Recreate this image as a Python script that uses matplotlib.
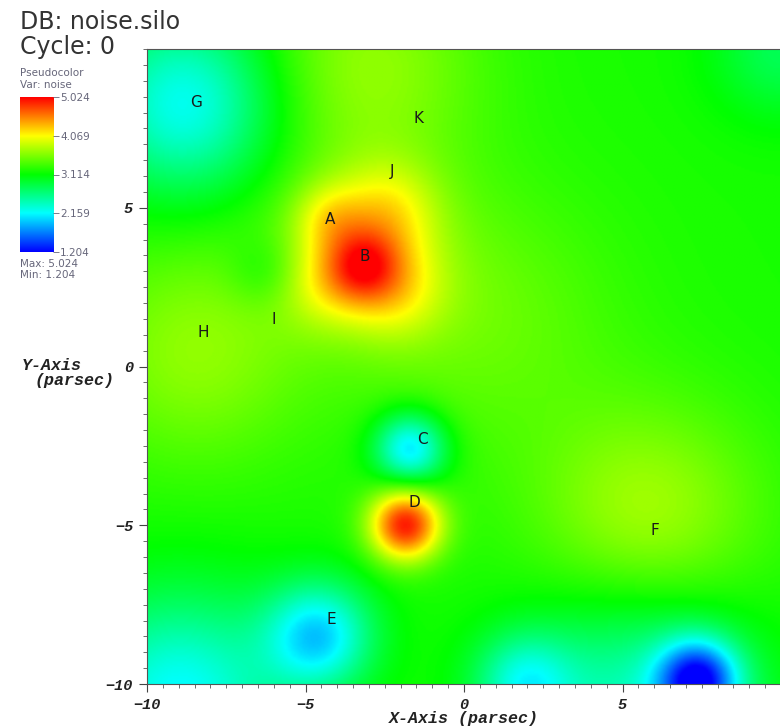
import matplotlib
matplotlib.use("Agg")
import matplotlib.pyplot as plt
import numpy as np
from matplotlib.colors import LinearSegmentedColormap
from matplotlib.ticker import MultipleLocator

# noise field: flat background plus gaussian bumps (centre, height, width)
background = 3.2
bump_x = [-3.2, -4.3, -2.4, -4.4, -2.2, -6.3, -1.85, -8.8, -1.7, -4.6, 7.4, 1.9, -9.0, 5.5,
          -3.0, -8.5, 5.8, 0.5, 10.0, -3.3]
bump_y = [3.2, 4.7, 4.9, 2.6, 2.4, 3.0, -5.0, 8.3, -2.6, -8.5, -9.9, -10.0, -10.5, -10.5,
          9.5, 0.5, -4.8, 1.5, 10.0, 3.7]
bump_amp = [0.85, 0.45, 0.5, 0.4, 0.5, -0.25, 1.7, -1.0, -1.2, -1.15, -1.7, -0.8, -1.05, -0.8,
            0.45, 0.45, 0.55, 0.3, -0.4, 0.4]
bump_sigma = [0.8, 0.8, 1.1, 1.0, 1.1, 0.8, 0.8, 2.0, 0.8, 1.2, 0.9, 1.1, 2.3, 2.6,
              2.5, 2.5, 2.5, 3.0, 1.5, 2.0]

# named points drawn as letters
label_names = ["A", "B", "C", "D", "E", "F", "G", "H", "I", "J", "K"]
label_x = [-4.23, -3.12, -1.32, -1.55, -4.2, 6.03, -8.45, -8.23, -6.0, -2.27, -1.45]
label_y = [4.64, 3.47, -2.3, -4.29, -7.98, -5.17, 8.3, 1.07, 1.48, 6.15, 7.8]

vmin, vmax = 1.204, 5.024
legend_ticks = [1.204, 2.159, 3.114, 4.069, 5.024]
axis_ticks = [-10, -5, 0, 5]

xs = np.linspace(-10, 10, 400)
ys = np.linspace(-10, 10, 400)
X, Y = np.meshgrid(xs, ys)
Z = np.full_like(X, background)
for bx, by, a, s in zip(bump_x, bump_y, bump_amp, bump_sigma):
    Z += a * np.exp(-((X - bx) ** 2 + (Y - by) ** 2) / (2 * s ** 2))

hot = LinearSegmentedColormap.from_list(
    "hot", ["#0000ff", "#00ffff", "#00ff00", "#ffff00", "#ff0000"])

fig = plt.figure(figsize=(7.8, 7.28), dpi=100)
ax = fig.add_axes([147 / 780, 44 / 728, 634 / 780, 635 / 728])
ax.imshow(Z, cmap=hot, vmin=vmin, vmax=vmax, origin="lower",
          extent=[-10, 10, -10, 10], interpolation="bilinear", aspect="auto")
for name, lx, ly in zip(label_names, label_x, label_y):
    ax.text(lx, ly, name, ha="center", va="center", fontsize=11, color="#1a1a1a")

ax.set_xlim(-10, 10)
ax.set_ylim(-10, 10)
tick_font = dict(family="Liberation Mono", weight="bold", style="italic")
ax.set_xticks(axis_ticks)
ax.set_yticks(axis_ticks)
ax.xaxis.set_minor_locator(MultipleLocator(0.5))
ax.yaxis.set_minor_locator(MultipleLocator(0.5))
ax.tick_params(which="major", length=6, width=0.8, color="#444", pad=4,
               labelsize=11, labelcolor="#222")
ax.tick_params(which="minor", length=3, width=0.6, color="#555")
for lab in ax.get_xticklabels() + ax.get_yticklabels():
    lab.set_fontfamily("Liberation Mono")
    lab.set_fontweight("bold")
    lab.set_fontstyle("italic")
for sp in ax.spines.values():
    sp.set_color("#555")
    sp.set_linewidth(0.8)

fig.text(464 / 780, 1 - 718 / 728, "X-Axis (parsec)", ha="center", va="center",
         fontsize=12, color="#222", **tick_font)
fig.text(22 / 780, 1 - 365 / 728, "Y-Axis", ha="left", va="center",
         fontsize=12, color="#222", **tick_font)
fig.text(35 / 780, 1 - 381 / 728, "(parsec)", ha="left", va="center",
         fontsize=12, color="#222", **tick_font)

# database and cycle header
fig.text(20 / 780, 1 - 22 / 728, "DB: noise.silo", ha="left", va="center",
         fontsize=17, color="#333")
fig.text(20 / 780, 1 - 47 / 728, "Cycle: 0", ha="left", va="center",
         fontsize=17, color="#333")

# pseudocolor legend
leg_col = "#66667a"
fig.text(20 / 780, 1 - 73 / 728, "Pseudocolor", fontsize=7.5, color=leg_col, va="center")
fig.text(20 / 780, 1 - 85 / 728, "Var: noise", fontsize=7.5, color=leg_col, va="center")
cax = fig.add_axes([20 / 780, 1 - 252 / 728, 33 / 780, 155 / 728])
grad = np.linspace(vmin, vmax, 256).reshape(-1, 1)
cax.imshow(grad, cmap=hot, vmin=vmin, vmax=vmax, origin="lower", aspect="auto",
           extent=[0, 1, vmin, vmax])
cax.set_xticks([])
cax.yaxis.tick_right()
cax.set_yticks(legend_ticks)
cax.set_yticklabels([f"{v:.3f}" for v in legend_ticks])
cax.tick_params(axis="y", length=4, width=0.6, color=leg_col, labelsize=7.5,
                labelcolor=leg_col, pad=1)
for sp in cax.spines.values():
    sp.set_visible(False)
fig.text(20 / 780, 1 - 264 / 728, f"Max: {max(legend_ticks):.3f}", fontsize=7.5,
         color=leg_col, va="center")
fig.text(20 / 780, 1 - 275 / 728, f"Min: {min(legend_ticks):.3f}", fontsize=7.5,
         color=leg_col, va="center")

fig.savefig("out.png", dpi=100)
